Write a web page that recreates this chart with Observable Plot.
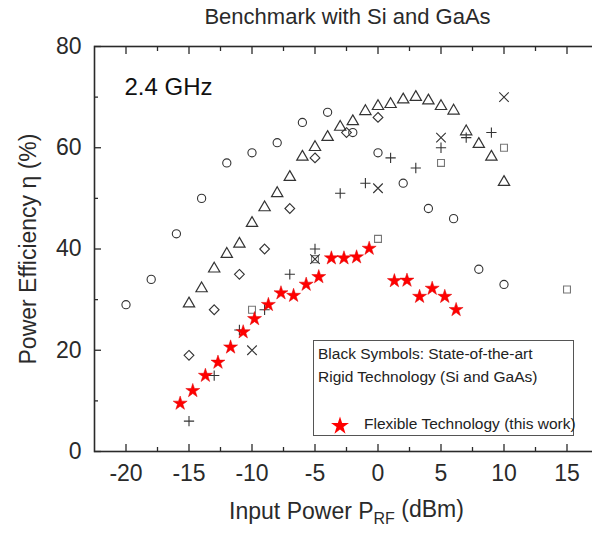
<!DOCTYPE html>
<html>
<head>
<meta charset="utf-8">
<script src="https://cdn.jsdelivr.net/npm/d3@7"></script>
<script src="https://cdn.jsdelivr.net/npm/@observablehq/plot@0.6"></script>
<style>
  html, body { margin: 0; padding: 0; background: #fff; overflow: hidden; }
  #wrap { position: relative; width: 592px; height: 533px; font-family: "Liberation Sans", Arial, sans-serif; color: #222; }
  #legend { position: absolute; left: 313px; top: 340px; width: 261px; height: 96px; border: 1px solid #555; box-sizing: border-box; font-size: 15.5px; color: #222; }
  #legend .l1 { position: absolute; left: 4px; top: 4px; white-space: nowrap; }
  #legend .l2 { position: absolute; left: 4px; top: 27px; white-space: nowrap; }
  #legend .l3 { position: absolute; left: 50px; top: 74px; white-space: nowrap; }
  #legend svg { position: absolute; left: 16px; top: 75px; }
</style>
</head>
<body>
<div id="wrap"></div>
<script>
// ---- data ----
const titleText = "Benchmark with Si and GaAs";
const xTitle = "Input Power P";
const xTitleSub = "RF";
const xTitleTail = " (dBm)";
const yTitle = "Power Efficiency \u03b7 (%)";
const freqLabel = "2.4 GHz";
const legendLine1 = "Black Symbols: State-of-the-art";
const legendLine2 = "Rigid Technology (Si and GaAs)";
const legendLine3 = "Flexible Technology (this work)";

const xMajor = [-20, -15, -10, -5, 0, 5, 10, 15];
const xMinor = [-17.5, -12.5, -7.5, -2.5, 2.5, 7.5, 12.5];
const yMajor = [0, 20, 40, 60, 80];
const yMinor = [10, 30, 50, 70];

const circleX = [-20, -18, -16, -14, -12, -10, -8, -6, -4, -2, 0, 2, 4, 6, 8, 10];
const circleY = [29, 34, 43, 50, 57, 59, 61, 65, 67, 63, 59, 53, 48, 46, 36, 33];

const triangleX = [-15, -14, -13, -12, -11, -10, -9, -8, -7, -6, -5, -4, -3, -2, -1, 0, 1, 2, 3, 4, 5, 6, 7, 8, 9, 10];
const triangleY = [29.2, 32.2, 36.1, 39, 41, 45.1, 48.2, 51, 54.2, 58.2, 60.1, 62.1, 64.1, 65.2, 67.2, 68.2, 68.6, 69.5, 70, 69.3, 68.2, 67.3, 63.2, 60.7, 58.2, 53.2];

const diamondX = [-15, -13, -11, -9, -7, -5, -2.5, 0];
const diamondY = [19, 28, 35, 40, 48, 58, 63, 66];

const plusX = [-15, -13, -11, -9, -7, -5, -3, -1, 1, 3, 5, 7, 9];
const plusY = [6, 15, 24, 28, 35, 40, 51, 53, 58, 56, 60, 62, 63];

const timesX = [-10, -5, 0, 5, 10];
const timesY = [20, 38, 52, 62, 70];

const squareX = [-10, -5, 0, 5, 10, 15];
const squareY = [28, 38, 42, 57, 60, 32];

const starX = [-15.7, -14.7, -13.7, -12.7, -11.7, -10.7, -9.8, -8.7, -7.7, -6.7, -5.7, -4.7, -3.7, -2.7, -1.7, -0.7, 1.3, 2.3, 3.3, 4.3, 5.3, 6.2];
const starY = [9.5, 12, 15, 17.6, 20.6, 23.6, 26.2, 29, 31.3, 30.8, 33, 34.5, 38.2, 38.2, 38.4, 40.1, 33.7, 33.8, 30.6, 32.2, 30.6, 28];

// ---- build tables ----
const zip = (xs, ys) => xs.map((x, i) => ({x, y: ys[i]}));
const circles = zip(circleX, circleY);
const triangles = zip(triangleX, triangleY);
const diamonds = zip(diamondX, diamondY);
const pluses = zip(plusX, plusY);
const times = zip(timesX, timesY);
const squares = zip(squareX, squareY);
const stars = zip(starX, starY);

const ink = "#2a2a2a";
const tickMajor = -7, tickMinor = -4;

const chart = Plot.plot({
  width: 592,
  height: 533,
  marginLeft: 94,
  marginTop: 46,
  marginBottom: 82,
  marginRight: -6,
  x: {domain: [-22.5, 17.5]},
  y: {domain: [0, 80]},
  style: {fontFamily: "'Liberation Sans', Arial, sans-serif", fontSize: "23px", color: ink, background: "white"},
  marks: [
    // axis labels
    Plot.axisX(xMajor, {anchor: "bottom", tickSize: 0, tickPadding: 13, fontSize: 23, label: null, tickFormat: d => String(d)}),
    Plot.axisY(yMajor, {anchor: "left", tickSize: 0, tickPadding: 13, fontSize: 23, label: null}),
    // inward ticks on all four sides
    Plot.axisX(xMajor, {anchor: "bottom", tickSize: tickMajor, fill: "none", label: null, strokeWidth: 1.3}),
    Plot.axisX(xMinor, {anchor: "bottom", tickSize: tickMinor, fill: "none", label: null, strokeWidth: 1.3}),
    Plot.axisX(xMajor, {anchor: "top", tickSize: tickMajor, fill: "none", label: null, strokeWidth: 1.3}),
    Plot.axisX(xMinor, {anchor: "top", tickSize: tickMinor, fill: "none", label: null, strokeWidth: 1.3}),
    Plot.axisY(yMajor, {anchor: "left", tickSize: tickMajor, fill: "none", label: null, strokeWidth: 1.3}),
    Plot.axisY(yMinor, {anchor: "left", tickSize: tickMinor, fill: "none", label: null, strokeWidth: 1.3}),
    Plot.axisY(yMajor, {anchor: "right", tickSize: tickMajor, fill: "none", label: null, strokeWidth: 1.3}),
    Plot.axisY(yMinor, {anchor: "right", tickSize: tickMinor, fill: "none", label: null, strokeWidth: 1.3}),
    Plot.frame({stroke: ink, strokeWidth: 1.6}),
    // data: state-of-the-art rigid technology
    Plot.dot(circles, {x: "x", y: "y", symbol: "circle", r: 4.1, stroke: "#333", fill: "none", strokeWidth: 1.1}),
    Plot.dot(triangles, {x: "x", y: "y", symbol: "triangle", r: 4.2, stroke: "#333", fill: "none", strokeWidth: 1.2}),
    Plot.dot(diamonds, {x: "x", y: "y", symbol: "diamond2", r: 4.4, stroke: "#333", fill: "none", strokeWidth: 1.1}),
    Plot.dot(squares, {x: "x", y: "y", symbol: "square", r: 3.9, stroke: "#777", fill: "none", strokeWidth: 1.1}),
    Plot.dot(pluses, {x: "x", y: "y", symbol: "plus", r: 3.4, stroke: "#333", fill: "none", strokeWidth: 1.1}),
    Plot.dot(times, {x: "x", y: "y", symbol: "times", r: 4.4, stroke: "#333", fill: "none", strokeWidth: 1.1}),
    // data: flexible technology (this work)
    Plot.dot(stars, {x: "x", y: "y", symbol: "star", r: 4.4, fill: "#ff0000", stroke: "#e00000", strokeWidth: 0.5}),
    // texts
    Plot.text([titleText], {frameAnchor: "top", dy: -30, dx: 1, textAnchor: "middle", lineAnchor: "middle", fontSize: 22, fill: ink}),
    Plot.text([freqLabel], {frameAnchor: "top-left", dx: 30, dy: 41, textAnchor: "start", lineAnchor: "middle", fontSize: 24, fill: "#111"}),
    Plot.text([xTitle], {frameAnchor: "bottom", dy: 60, textAnchor: "middle", lineAnchor: "middle", fontSize: 23, fill: ink}),
    Plot.text([yTitle], {frameAnchor: "left", dx: -66, rotate: -90, textAnchor: "middle", lineAnchor: "middle", fontSize: 23, fill: ink})
  ]
});

// subscript in the x axis title
d3.select(chart).selectAll("text").filter(function() { return this.textContent === xTitle; }).each(function() {
  const t = d3.select(this);
  t.text(null);
  t.append("tspan").text(xTitle);
  t.append("tspan").attr("font-size", 16).attr("dy", "0.3em").text(xTitleSub);
  t.append("tspan").attr("dy", "-0.3em").text(xTitleTail);
});

const wrap = document.getElementById("wrap");
wrap.appendChild(chart);

// legend box
const legend = document.createElement("div");
legend.id = "legend";
const starPath = d3.symbol(d3.symbolStar, 100)();
legend.innerHTML =
  `<div class="l1">${legendLine1}</div>` +
  `<div class="l2">${legendLine2}</div>` +
  `<svg width="20" height="20" viewBox="-10 -10 20 20"><path d="${starPath}" fill="#ff0000"></path></svg>` +
  `<div class="l3">${legendLine3}</div>`;
wrap.appendChild(legend);
</script>
</body>
</html>
